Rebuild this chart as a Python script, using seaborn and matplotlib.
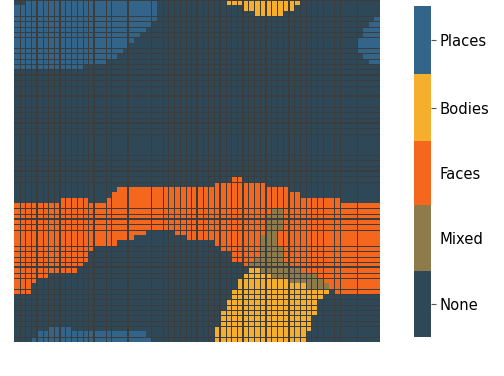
import numpy as np
import matplotlib
matplotlib.use("Agg")
import matplotlib.pyplot as plt
from matplotlib.colors import ListedColormap, BoundaryNorm
import seaborn as sns

labels = ["None", "Mixed", "Faces", "Bodies", "Places"]
colors = ["#2f4858", "#8d7b4c", "#f6671e", "#f6ae2d", "#33658a"]
bounds = [-0.5, 0.5, 1.494, 2.46, 3.47, 4.5]
N = 64

# row: [(first_col, last_col_exclusive), ...]
places_spans = {
    0: [(2, 25)], 1: [(0, 25)], 2: [(0, 25)], 3: [(0, 25), (63, 64)],
    4: [(0, 24), (62, 64)], 5: [(0, 23), (61, 64)], 6: [(0, 22), (61, 64)],
    7: [(0, 21), (60, 64)], 8: [(0, 20), (60, 64)], 9: [(0, 19), (60, 64)],
    10: [(0, 18), (61, 64)], 11: [(0, 16), (62, 64)], 12: [(0, 12)],
    61: [(6, 10)], 62: [(4, 23)], 63: [(3, 24)],
}
faces_spans = {
    33: [(38, 40)], 34: [(35, 44)], 35: [(18, 48)], 36: [(17, 50)],
    37: [(8, 13), (16, 57)], 38: [(0, 64)], 39: [(0, 64)], 40: [(0, 64)],
    41: [(0, 64)], 42: [(0, 64)], 43: [(0, 23), (28, 64)],
    44: [(0, 21), (30, 64)], 45: [(0, 18), (35, 64)], 46: [(0, 14), (36, 64)],
    47: [(0, 13), (38, 64)], 48: [(0, 13), (38, 64)], 49: [(0, 12), (40, 64)],
    50: [(0, 11), (50, 64)], 51: [(0, 6), (53, 64)], 52: [(0, 4), (54, 64)],
    53: [(0, 3), (55, 64)], 54: [(0, 3), (56, 64)],
}
mixed_spans = {
    39: [(45, 47)], 40: [(44, 47)], 41: [(44, 47)], 42: [(44, 47)],
    43: [(44, 46)], 44: [(43, 46)], 45: [(43, 46)], 46: [(43, 47)],
    47: [(43, 47)], 48: [(42, 47)], 49: [(41, 48)], 50: [(43, 50)],
    51: [(45, 53)], 52: [(48, 54)], 53: [(51, 55)],
}
bodies_spans = {
    0: [(37, 50)], 1: [(40, 49)], 2: [(42, 47)],
    50: [(41, 43)], 51: [(40, 45)], 52: [(39, 48)], 53: [(39, 51)],
    54: [(38, 55)], 55: [(38, 54)], 56: [(37, 53)], 57: [(37, 53)],
    58: [(36, 53)], 59: [(36, 52)], 60: [(36, 52)], 61: [(35, 52)],
    62: [(35, 51)], 63: [(35, 51)],
}

# Cell boundaries that carry a separator line
col_lines_thin = [1, 2, 3, 5, 6, 7, 9, 10, 11, 12, 13, 16, 17, 24, 26, 27, 28, 29, 30, 31,
                  33, 34, 35, 37, 38, 39, 41, 42, 43, 45, 46, 47, 49, 50, 51, 52, 53, 54,
                  56, 57, 60]
col_lines_thick = [4, 8, 14, 20, 32, 36, 40, 44, 48]
row_lines_thin = [0, 3, 4, 5, 6, 7, 9, 10, 11, 12, 13, 15, 16, 20, 21, 22, 24, 25, 29, 30,
                  31, 33, 34, 39, 40, 42, 43, 46, 47, 48, 49, 51, 52, 54, 55, 56, 57, 58,
                  59, 60, 61, 63, 64]
row_lines_thick = [14, 18, 23, 32, 41, 50]

grid = np.zeros((N, N))
for code, spans in [(2, faces_spans), (1, mixed_spans), (3, bodies_spans), (4, places_spans)]:
    for row, parts in spans.items():
        for a, b in parts:
            grid[row, a:b] = code

W, H = 504, 376
fig = plt.figure(figsize=(W / 100, H / 100), dpi=100)
ax = fig.add_axes([14 / W, (H - 342) / H, 366 / W, 342 / H])
cax = fig.add_axes([414 / W, (H - 337) / H, 17 / W, 331 / H])

centres = [(a + b) / 2 for a, b in zip(bounds[:-1], bounds[1:])]
sns.heatmap(grid, ax=ax, cbar_ax=cax, cmap=ListedColormap(colors),
            norm=BoundaryNorm(bounds, len(colors)),
            xticklabels=False, yticklabels=False,
            cbar_kws={"ticks": centres, "spacing": "proportional"})

line_color = "#3c3c3c"
for xs, ys, lw in [(col_lines_thin, row_lines_thin, 0.72), (col_lines_thick, row_lines_thick, 1.44)]:
    for coll in (ax.vlines(xs, 0, N, colors=line_color, linewidth=lw, zorder=3),
                 ax.hlines(ys, 0, N, colors=line_color, linewidth=lw, zorder=3)):
        coll.set_snap(True)
        coll.set_antialiased(False)

cb = ax.collections[0].colorbar
cb.set_ticklabels(labels)
cax.minorticks_off()
cax.tick_params(labelsize=10.6, length=3.3, width=0.8, color="#555555", pad=2.6)
for tick, name in zip(cax.yaxis.get_major_ticks(), labels):
    tick.tick2line.set_visible(name not in ("Faces", "Mixed"))
ax.tick_params(length=0)
fig.savefig("out.png", dpi=100)
